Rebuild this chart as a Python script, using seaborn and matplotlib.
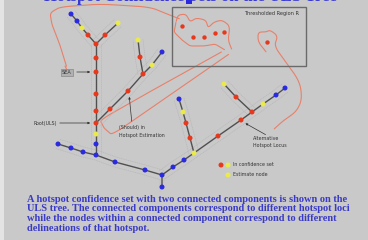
import numpy as np
import pandas as pd
import matplotlib
matplotlib.use("Agg")
import matplotlib.pyplot as plt
import seaborn as sns

sns.set_theme(style="white")
plt.rcParams['font.family'] = ['DejaVu Sans']

# ---- data: tree nodes (pixel layout of the diagram) ----
node_x = [71, 77, 82, 88, 96, 105, 118,
          96, 96, 96, 96, 96, 96, 96, 96,
          110, 128, 143, 140, 138, 152, 162,
          58, 71, 83, 115, 145, 162, 162, 173, 184, 194,
          190, 186, 183, 179,
          218, 241, 252, 263, 276, 285, 236, 224]
node_y = [14, 21, 28, 35, 44, 35, 23,
          58, 72, 94, 111, 123, 134, 144, 155,
          109, 91, 74, 57, 40, 65, 52,
          144, 148, 152, 162, 170, 175, 187, 167, 160, 153,
          138, 123, 112, 99,
          136, 120, 112, 104, 95, 88, 97, 84]
node_kind = ["blue", "blue", "yellow", "red", "red", "red", "yellow",
             "red", "red", "red", "red", "red", "yellow", "blue", "blue",
             "red", "red", "red", "red", "yellow", "yellow", "blue",
             "blue", "blue", "blue", "blue", "blue", "blue", "blue", "blue", "blue", "yellow",
             "red", "red", "yellow", "blue",
             "red", "red", "red", "yellow", "blue", "blue", "red", "yellow"]
branches = [[0, 1, 2, 3, 4], [4, 5, 6],
            [4, 7, 8, 9, 10, 11, 12, 13, 14],
            [11, 15, 16, 17], [17, 18, 19], [17, 20, 21],
            [22, 23, 24, 14, 25, 26, 27, 28], [27, 29, 30, 31],
            [31, 32, 33, 34, 35], [31, 36, 37, 38, 39, 40, 41], [38, 42, 43]]

# threshold-region nodes
box_x = [182, 193, 204, 215, 224, 267]
box_y = [26, 37, 37, 33, 32, 42]

caption = ["A hotspot confidence set with two connected components is shown on the",
           "ULS tree. The connected components correspond to different hotspot loci",
           "while the nodes within a connected component correspond to different",
           "delineations of that hotspot."]

BG = "#c9c9c9"
RED = "#e8381c"
YEL = "#eaea4a"
BLU = "#2a2ae0"
SAL = "#e8806a"
palette = {"red": RED, "yellow": YEL, "blue": BLU}

fig = plt.figure(figsize=(3.68, 2.40), dpi=100, facecolor=BG)
ax = fig.add_axes([0, 0, 1, 1])
ax.set_facecolor(BG)
ax.set_xlim(0, 368)
ax.set_ylim(240, 0)
ax.axis("off")

# left light strip
ax.axvspan(0, 4, color="#e4e4e4", lw=0, zorder=0)

# title, cut off at the top edge as in the source slide
ax.text(190, -3, "Hotspot Confidence Sets on the ULS Tree", color="#3a3ad0",
        fontsize=12, fontweight="bold", family="Liberation Serif",
        ha="center", va="center", zorder=1)
ax.add_patch(plt.Rectangle((186, 0), 6, 4, color=BLU, lw=0, zorder=2))

# threshold region box
ax.add_patch(plt.Rectangle((172, 7), 134, 59, fill=False, ec="#6a6a6a", lw=1.0, zorder=2))
ax.text(272, 13, "Thresholded Region R", fontsize=3.6, color="#333333",
        ha="center", va="center")

# salmon outlines (confidence set boundaries)
def curve(pts, **kw):
    p = np.array(pts, float)
    t = np.linspace(0, 1, len(p))
    tt = np.linspace(0, 1, 200)
    xs = np.interp(tt, t, p[:, 0]); ys = np.interp(tt, t, p[:, 1])
    k = np.ones(15) / 15
    xs2 = np.convolve(np.pad(xs, 7, mode="edge"), k, mode="valid")
    ys2 = np.convolve(np.pad(ys, 7, mode="edge"), k, mode="valid")
    ax.plot(xs2, ys2, color=SAL, lw=0.8, zorder=1, **kw)

curve([(67, 68), (60, 45), (52, 25), (50, 13), (60, 7), (100, 4), (150, 7),
       (172, 16), (180, 19)])
curve([(176, 22), (178, 15), (186, 14), (190, 22), (196, 18), (206, 20), (208, 28),
       (214, 22), (222, 20), (230, 26), (228, 40), (232, 50)])
curve([(176, 22), (174, 32), (182, 40), (190, 46), (204, 46), (215, 44), (225, 50)])
curve([(225, 50), (160, 86), (100, 120), (104, 128), (112, 135), (170, 95), (232, 52)])
curve([(267, 53), (258, 42), (258, 32), (266, 32), (270, 30), (278, 36), (274, 46),
       (286, 62), (300, 82), (302, 100), (296, 112), (284, 120), (273, 130)])
curve([(65, 66), (67, 70)])

# faint gray outlines around branches
for br in branches:
    bx = np.array([node_x[i] for i in br], float)
    by = np.array([node_y[i] for i in br], float)
    d = np.array([bx[-1] - bx[0], by[-1] - by[0]])
    n = np.array([-d[1], d[0]]) / (np.hypot(*d) + 1e-9)
    for s in (-5, 5):
        ax.plot(bx + s * n[0], by + s * n[1], color="#b6b6b6", lw=0.45,
                ls=(0, (2, 1)), zorder=1)

# tree edges
for br in branches:
    ax.plot([node_x[i] for i in br], [node_y[i] for i in br],
            color="#505050", lw=1.0, zorder=3, solid_capstyle="round")

# nodes
nodes = pd.DataFrame({"x": node_x, "y": node_y, "kind": node_kind})
sns.scatterplot(data=nodes, x="x", y="y", hue="kind", palette=palette,
                s=13, linewidth=0, legend=False, ax=ax, zorder=4)
bnodes = pd.DataFrame({"x": box_x, "y": box_y})
sns.scatterplot(data=bnodes, x="x", y="y", color=RED, s=10, linewidth=0,
                legend=False, ax=ax, zorder=4)
ax.set_xlim(0, 368); ax.set_ylim(240, 0); ax.axis("off")

# annotations
lab = dict(fontsize=3.4, color="#333333", va="center")
ax.text(67, 72, "SEA", ha="center", fontsize=3.6, color="#333333", va="center",
        bbox=dict(boxstyle="square,pad=0.2", fc="#b0b0b0", ec="#7a7a7a", lw=0.4))
ax.annotate("", xy=(93, 72), xytext=(74, 72),
            arrowprops=dict(arrowstyle="-|>", color="#333333", lw=0.5, mutation_scale=3))
ax.text(34, 123, "Root(ULS)", ha="left", **lab)
ax.annotate("", xy=(93, 123), xytext=(57, 123),
            arrowprops=dict(arrowstyle="-|>", color="#333333", lw=0.5, mutation_scale=3))
ax.text(119, 128, "(Should) in", ha="left", **lab)
ax.text(119, 135, "Hotspot Estimation", ha="left", **lab)
ax.annotate("", xy=(129, 94), xytext=(132, 124),
            arrowprops=dict(arrowstyle="-|>", color="#333333", lw=0.5, mutation_scale=3))
ax.text(253, 139, "Alternative", ha="left", **lab)
ax.text(253, 146, "Hotspot Locus", ha="left", **lab)
ax.annotate("", xy=(243, 122), xytext=(268, 136),
            arrowprops=dict(arrowstyle="-|>", color="#333333", lw=0.5, mutation_scale=3))

# legend
leg = pd.DataFrame({"x": [221, 228, 228], "y": [165, 165, 175],
                    "kind": ["red", "yellow", "yellow"]})
sns.scatterplot(data=leg, x="x", y="y", hue="kind", palette=palette, s=13,
                linewidth=0, legend=False, ax=ax, zorder=4)
ax.text(233, 165, "In confidence set", ha="left", **lab)
ax.text(233, 175, "Estimate node", ha="left", **lab)
ax.set_xlim(0, 368); ax.set_ylim(240, 0); ax.axis("off")

# caption
for i, line in enumerate(caption):
    ax.text(27, 199 + i * 9.7, line, fontsize=7.5, fontweight="bold",
            family="Liberation Serif", color="#3a3ac8", ha="left", va="center")

fig.savefig("out.png", dpi=100, facecolor=BG)
